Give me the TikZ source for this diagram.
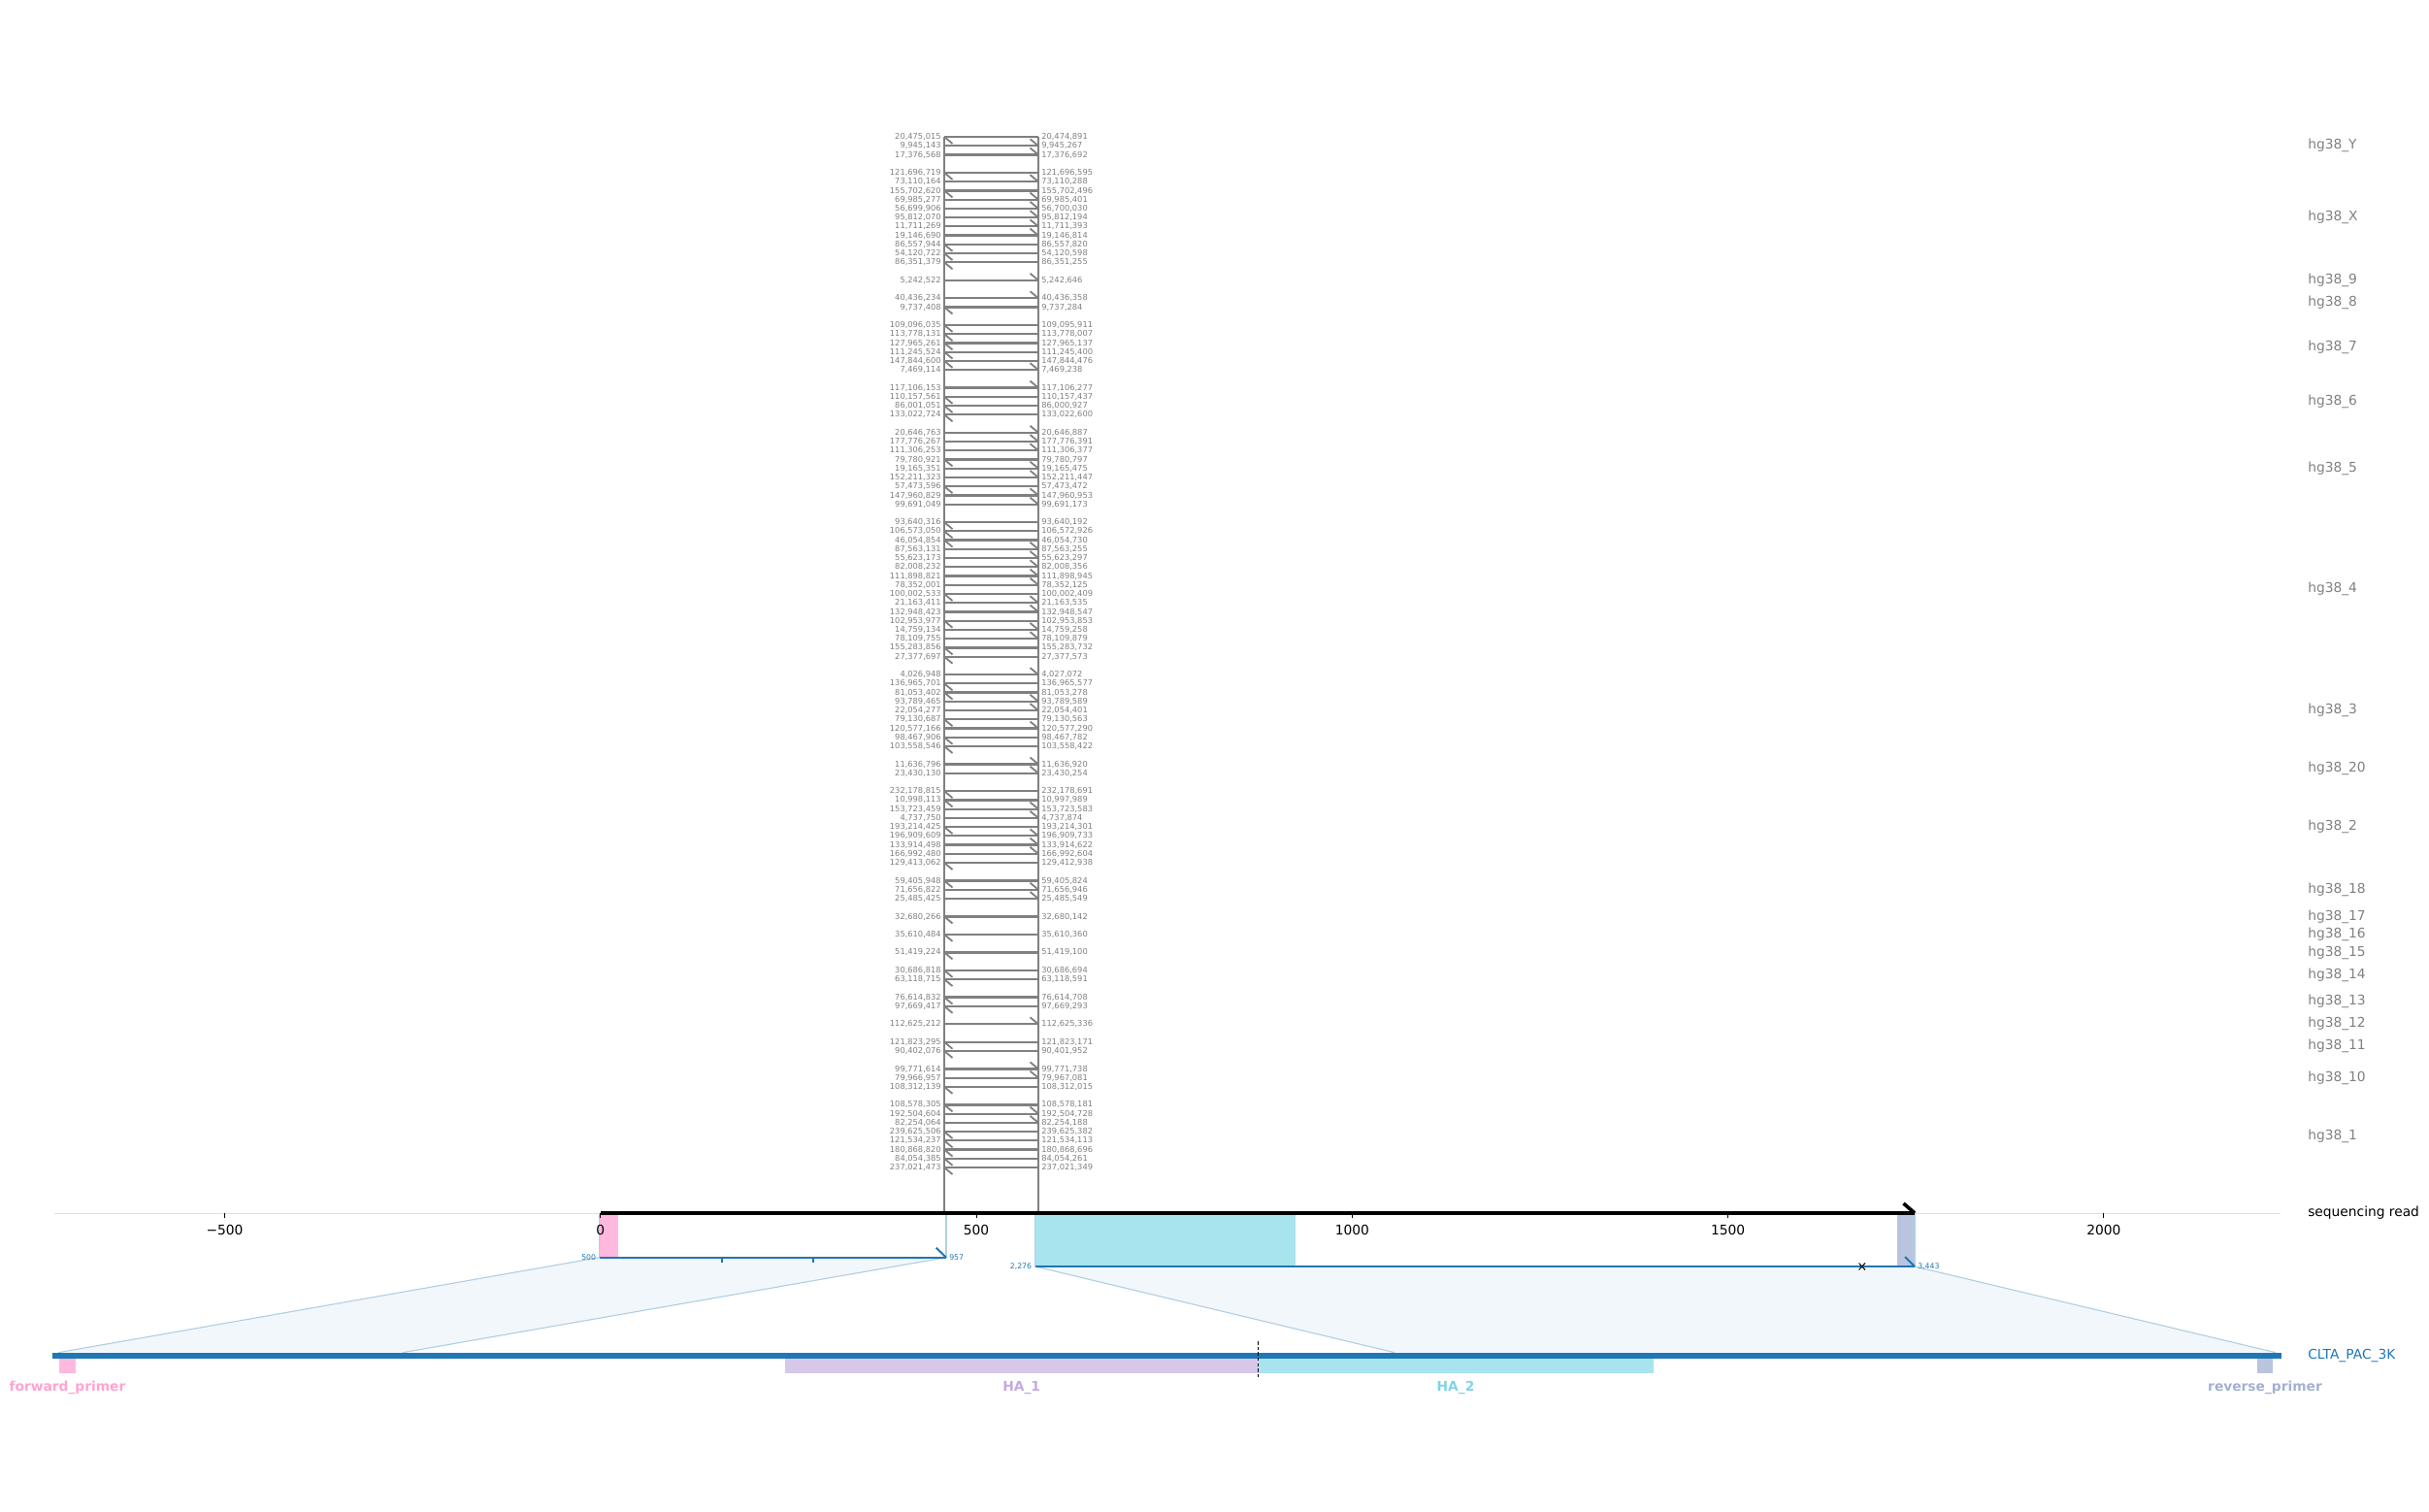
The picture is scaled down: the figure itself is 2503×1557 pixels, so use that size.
\documentclass[tikz,border=0pt]{standalone}
\usepackage{fontspec}
\setmainfont{DejaVu Sans}
\usetikzlibrary{calc}
\definecolor{kgrigio}{HTML}{808080}
\definecolor{tabblu}{HTML}{1F77B4}
\definecolor{blufondo}{HTML}{F1F7FB}
\definecolor{bluchiaro}{HTML}{B1CFE5}
\definecolor{rosa}{HTML}{FFB8DE}
\definecolor{rosatxt}{HTML}{FFA3D1}
\definecolor{lilla}{HTML}{D7C8EA}
\definecolor{lillatxt}{HTML}{C4A9E4}
\definecolor{ciano}{HTML}{A8E4EE}
\definecolor{cianotxt}{HTML}{80D4E8}
\definecolor{grigioblu}{HTML}{B9C4DE}
\definecolor{grigiobtxt}{HTML}{A3B0D3}

\begin{document}
\begin{tikzpicture}[x=0.025cm, y=-0.025cm, font=\fontsize{9.8}{11}\selectfont,
    riga/.style={kgrigio, line width=1.6pt},
    punta/.style={kgrigio, line width=1.3pt},
    num/.style={inner sep=0pt, text=kgrigio, font=\fontsize{5.9}{6}\selectfont},
    numblu/.style={inner sep=0pt, text=tabblu, font=\fontsize{5.5}{6}\selectfont},
    cromo/.style={anchor=west, inner sep=0pt, text=kgrigio},
    proiez/.style={bluchiaro, line width=0.8pt},
    allin/.style={tabblu, line width=1.4pt},
    etich/.style={inner sep=0pt, font=\fontsize{9.8}{11}\selectfont\bfseries}]
    \useasboundingbox (0,0) rectangle (2503,1557);

    % Allineamenti su hg38
    \draw[punta] (973,141) -- (973,1250);
    \draw[punta] (1070,141) -- (1070,1250);
    \foreach \ys/\la/\ra/\dir in {
        0/{20,475,015}/{20,474,891}/L, 1/{9,945,143}/{9,945,267}/R, 2/{17,376,568}/{17,376,692}/R,
        4/{121,696,719}/{121,696,595}/L, 5/{73,110,164}/{73,110,288}/R, 6/{155,702,620}/{155,702,496}/L,
        7/{69,985,277}/{69,985,401}/R, 8/{56,699,906}/{56,700,030}/R, 9/{95,812,070}/{95,812,194}/R,
        10/{11,711,269}/{11,711,393}/R, 11/{19,146,690}/{19,146,814}/R, 12/{86,557,944}/{86,557,820}/L,
        13/{54,120,722}/{54,120,598}/L, 14/{86,351,379}/{86,351,255}/L,
        16/{5,242,522}/{5,242,646}/R,
        18/{40,436,234}/{40,436,358}/R, 19/{9,737,408}/{9,737,284}/L,
        21/{109,096,035}/{109,095,911}/L, 22/{113,778,131}/{113,778,007}/L, 23/{127,965,261}/{127,965,137}/L,
        24/{111,245,524}/{111,245,400}/L, 25/{147,844,600}/{147,844,476}/L, 26/{7,469,114}/{7,469,238}/R,
        28/{117,106,153}/{117,106,277}/R, 29/{110,157,561}/{110,157,437}/L, 30/{86,001,051}/{86,000,927}/L,
        31/{133,022,724}/{133,022,600}/L,
        33/{20,646,763}/{20,646,887}/R, 34/{177,776,267}/{177,776,391}/R, 35/{111,306,253}/{111,306,377}/R,
        36/{79,780,921}/{79,780,797}/L, 37/{19,165,351}/{19,165,475}/R, 38/{152,211,323}/{152,211,447}/R,
        39/{57,473,596}/{57,473,472}/L, 40/{147,960,829}/{147,960,953}/R, 41/{99,691,049}/{99,691,173}/R,
        43/{93,640,316}/{93,640,192}/L, 44/{106,573,050}/{106,572,926}/L, 45/{46,054,854}/{46,054,730}/L,
        46/{87,563,131}/{87,563,255}/R, 47/{55,623,173}/{55,623,297}/R, 48/{82,008,232}/{82,008,356}/R,
        49/{111,898,821}/{111,898,945}/R, 50/{78,352,001}/{78,352,125}/R, 51/{100,002,533}/{100,002,409}/L,
        52/{21,163,411}/{21,163,535}/R, 53/{132,948,423}/{132,948,547}/R, 54/{102,953,977}/{102,953,853}/L,
        55/{14,759,134}/{14,759,258}/R, 56/{78,109,755}/{78,109,879}/R, 57/{155,283,856}/{155,283,732}/L,
        58/{27,377,697}/{27,377,573}/L,
        60/{4,026,948}/{4,027,072}/R, 61/{136,965,701}/{136,965,577}/L, 62/{81,053,402}/{81,053,278}/L,
        63/{93,789,465}/{93,789,589}/R, 64/{22,054,277}/{22,054,401}/R, 65/{79,130,687}/{79,130,563}/L,
        66/{120,577,166}/{120,577,290}/R, 67/{98,467,906}/{98,467,782}/L, 68/{103,558,546}/{103,558,422}/L,
        70/{11,636,796}/{11,636,920}/R, 71/{23,430,130}/{23,430,254}/R,
        73/{232,178,815}/{232,178,691}/L, 74/{10,998,113}/{10,997,989}/L, 75/{153,723,459}/{153,723,583}/R,
        76/{4,737,750}/{4,737,874}/R, 77/{193,214,425}/{193,214,301}/L, 78/{196,909,609}/{196,909,733}/R,
        79/{133,914,498}/{133,914,622}/R, 80/{166,992,480}/{166,992,604}/R, 81/{129,413,062}/{129,412,938}/L,
        83/{59,405,948}/{59,405,824}/L, 84/{71,656,822}/{71,656,946}/R, 85/{25,485,425}/{25,485,549}/R,
        87/{32,680,266}/{32,680,142}/L,
        89/{35,610,484}/{35,610,360}/L,
        91/{51,419,224}/{51,419,100}/L,
        93/{30,686,818}/{30,686,694}/L, 94/{63,118,715}/{63,118,591}/L,
        96/{76,614,832}/{76,614,708}/L, 97/{97,669,417}/{97,669,293}/L,
        99/{112,625,212}/{112,625,336}/R,
        101/{121,823,295}/{121,823,171}/L, 102/{90,402,076}/{90,401,952}/L,
        104/{99,771,614}/{99,771,738}/R, 105/{79,966,957}/{79,967,081}/R, 106/{108,312,139}/{108,312,015}/L,
        108/{108,578,305}/{108,578,181}/L, 109/{192,504,604}/{192,504,728}/R, 110/{82,254,064}/{82,254,188}/R,
        111/{239,625,506}/{239,625,382}/L, 112/{121,534,237}/{121,534,113}/L, 113/{180,868,820}/{180,868,696}/L,
        114/{84,054,385}/{84,054,261}/L, 115/{237,021,473}/{237,021,349}/L}{
        \pgfmathsetmacro{\yy}{141+9.235*\ys}
        \draw[riga] (973,\yy) -- (1070,\yy);
        \node[num, anchor=east] (sx\ys) at (970,\yy) {\la};
        \node[num, anchor=west] (dx\ys) at (1073,\yy) {\ra};
        \if\dir L\draw[punta] (973,\yy) -- ++(8.5,7);\else\draw[punta] (1070,\yy) -- ++(-8.5,-7);\fi
    }
    \foreach \c/\nm in {1/Y, 9/X, 16/9, 18.5/8, 23.5/7, 29.5/6, 37/5, 50.5/4, 64/3, 70.5/20, 77/2,
        84/18, 87/17, 89/16, 91/15, 93.5/14, 96.5/13, 99/12, 101.5/11, 105/10, 111.5/1}
        \node[cromo] (hg\nm) at (2378,{141+9.235*\c}) {hg38\_\nm};

    % Proiezioni read -> riferimento
    \fill[blufondo] (617.7,1295.7) -- (975,1295.7) -- (415,1393.7) -- (60,1393.7) -- cycle;
    \fill[blufondo] (1066.7,1305) -- (1973,1305) -- (2345,1393.7) -- (1437,1393.7) -- cycle;
    \draw[proiez] (617.7,1295.7) -- (60,1393.7) (975,1295.7) -- (415,1393.7);
    \draw[proiez] (1066.7,1305) -- (1437,1393.7) (1973,1305) -- (2345,1393.7);

    % Caratteristiche sulla read
    \fill[rosa] (617.7,1250) rectangle (636.7,1295.7);
    \fill[ciano] (1066.7,1250) rectangle (1335,1305);
    \fill[grigioblu] (1955,1250) rectangle (1973,1305);
    \draw[proiez] (617.7,1250) -- (617.7,1295.7) (975,1250) -- (975,1295.7);
    \draw[proiez] (1066.7,1250) -- (1066.7,1305) (1973,1250) -- (1973,1305);

    % Asse della read
    \draw[gray!25, line width=0.7pt] (56,1250) -- (2350,1250);
    \foreach \v/\t in {-500/−500, 0/0, 500/500, 1000/1000, 1500/1500, 2000/2000} {
        \draw[black, line width=0.6pt] ({618.8+0.7745*\v},1250) -- ++(0,5);
        \node[inner sep=0pt] (t\v) at ({618.8+0.7745*\v},1267) {\t};
    }
    \draw[black, line width=3.2pt] (618.8,1250) -- (1973,1250);
    \draw[black, line width=2.6pt] (1961.5,1240) -- (1973,1250);
    \node[anchor=west, inner sep=0pt] (read) at (2378,1250) {sequencing read};

    % Allineamenti su CLTA_PAC_3K
    \draw[allin] (617.7,1295.7) -- (975,1295.7);
    \draw[allin] (964.7,1285.7) -- (975,1295.7);
    \draw[allin] (744.3,1295.7) -- ++(0,5.5) (838.3,1295.7) -- ++(0,5.5);
    \node[numblu, anchor=east] (a1s) at (614.3,1295.7) {500};
    \node[numblu, anchor=west] (a1e) at (978,1295.7) {957};
    \draw[allin] (1066.7,1305) -- (1973,1305);
    \draw[allin] (1963,1295) -- (1973,1305);
    \draw[black, line width=0.7pt] (1915.5,1301.5) -- (1922,1308.5) (1915.5,1308.5) -- (1922,1301.5);
    \node[numblu, anchor=east] (a2s) at (1063.3,1305) {2,276};
    \node[numblu, anchor=west] (a2e) at (1976,1305) {3,443};

    % Riferimento
    \draw[tabblu, line width=4.6pt] (54,1397) -- (2350.7,1397);
    \node[anchor=west, inner sep=0pt, text=tabblu] (rif) at (2378,1397) {CLTA\_PAC\_3K};
    \fill[rosa] (61,1400.2) rectangle (78,1415);
    \fill[lilla] (809,1400.2) rectangle (1296.5,1415);
    \fill[ciano] (1296.5,1400.2) rectangle (1703.5,1415);
    \fill[grigioblu] (2326,1400.2) rectangle (2342,1415);
    \draw[black, line width=0.7pt, dash pattern=on 2.5pt off 1.5pt] (1296.5,1382) -- (1296.5,1421);
    \node[etich, text=rosatxt] (fp) at (69.5,1430) {forward\_primer};
    \node[etich, text=lillatxt] (ha1) at (1052.7,1430) {HA\_1};
    \node[etich, text=cianotxt] (ha2) at (1500,1430) {HA\_2};
    \node[etich, text=grigiobtxt] (rp) at (2334,1430) {reverse\_primer};
\end{tikzpicture}
\end{document}
